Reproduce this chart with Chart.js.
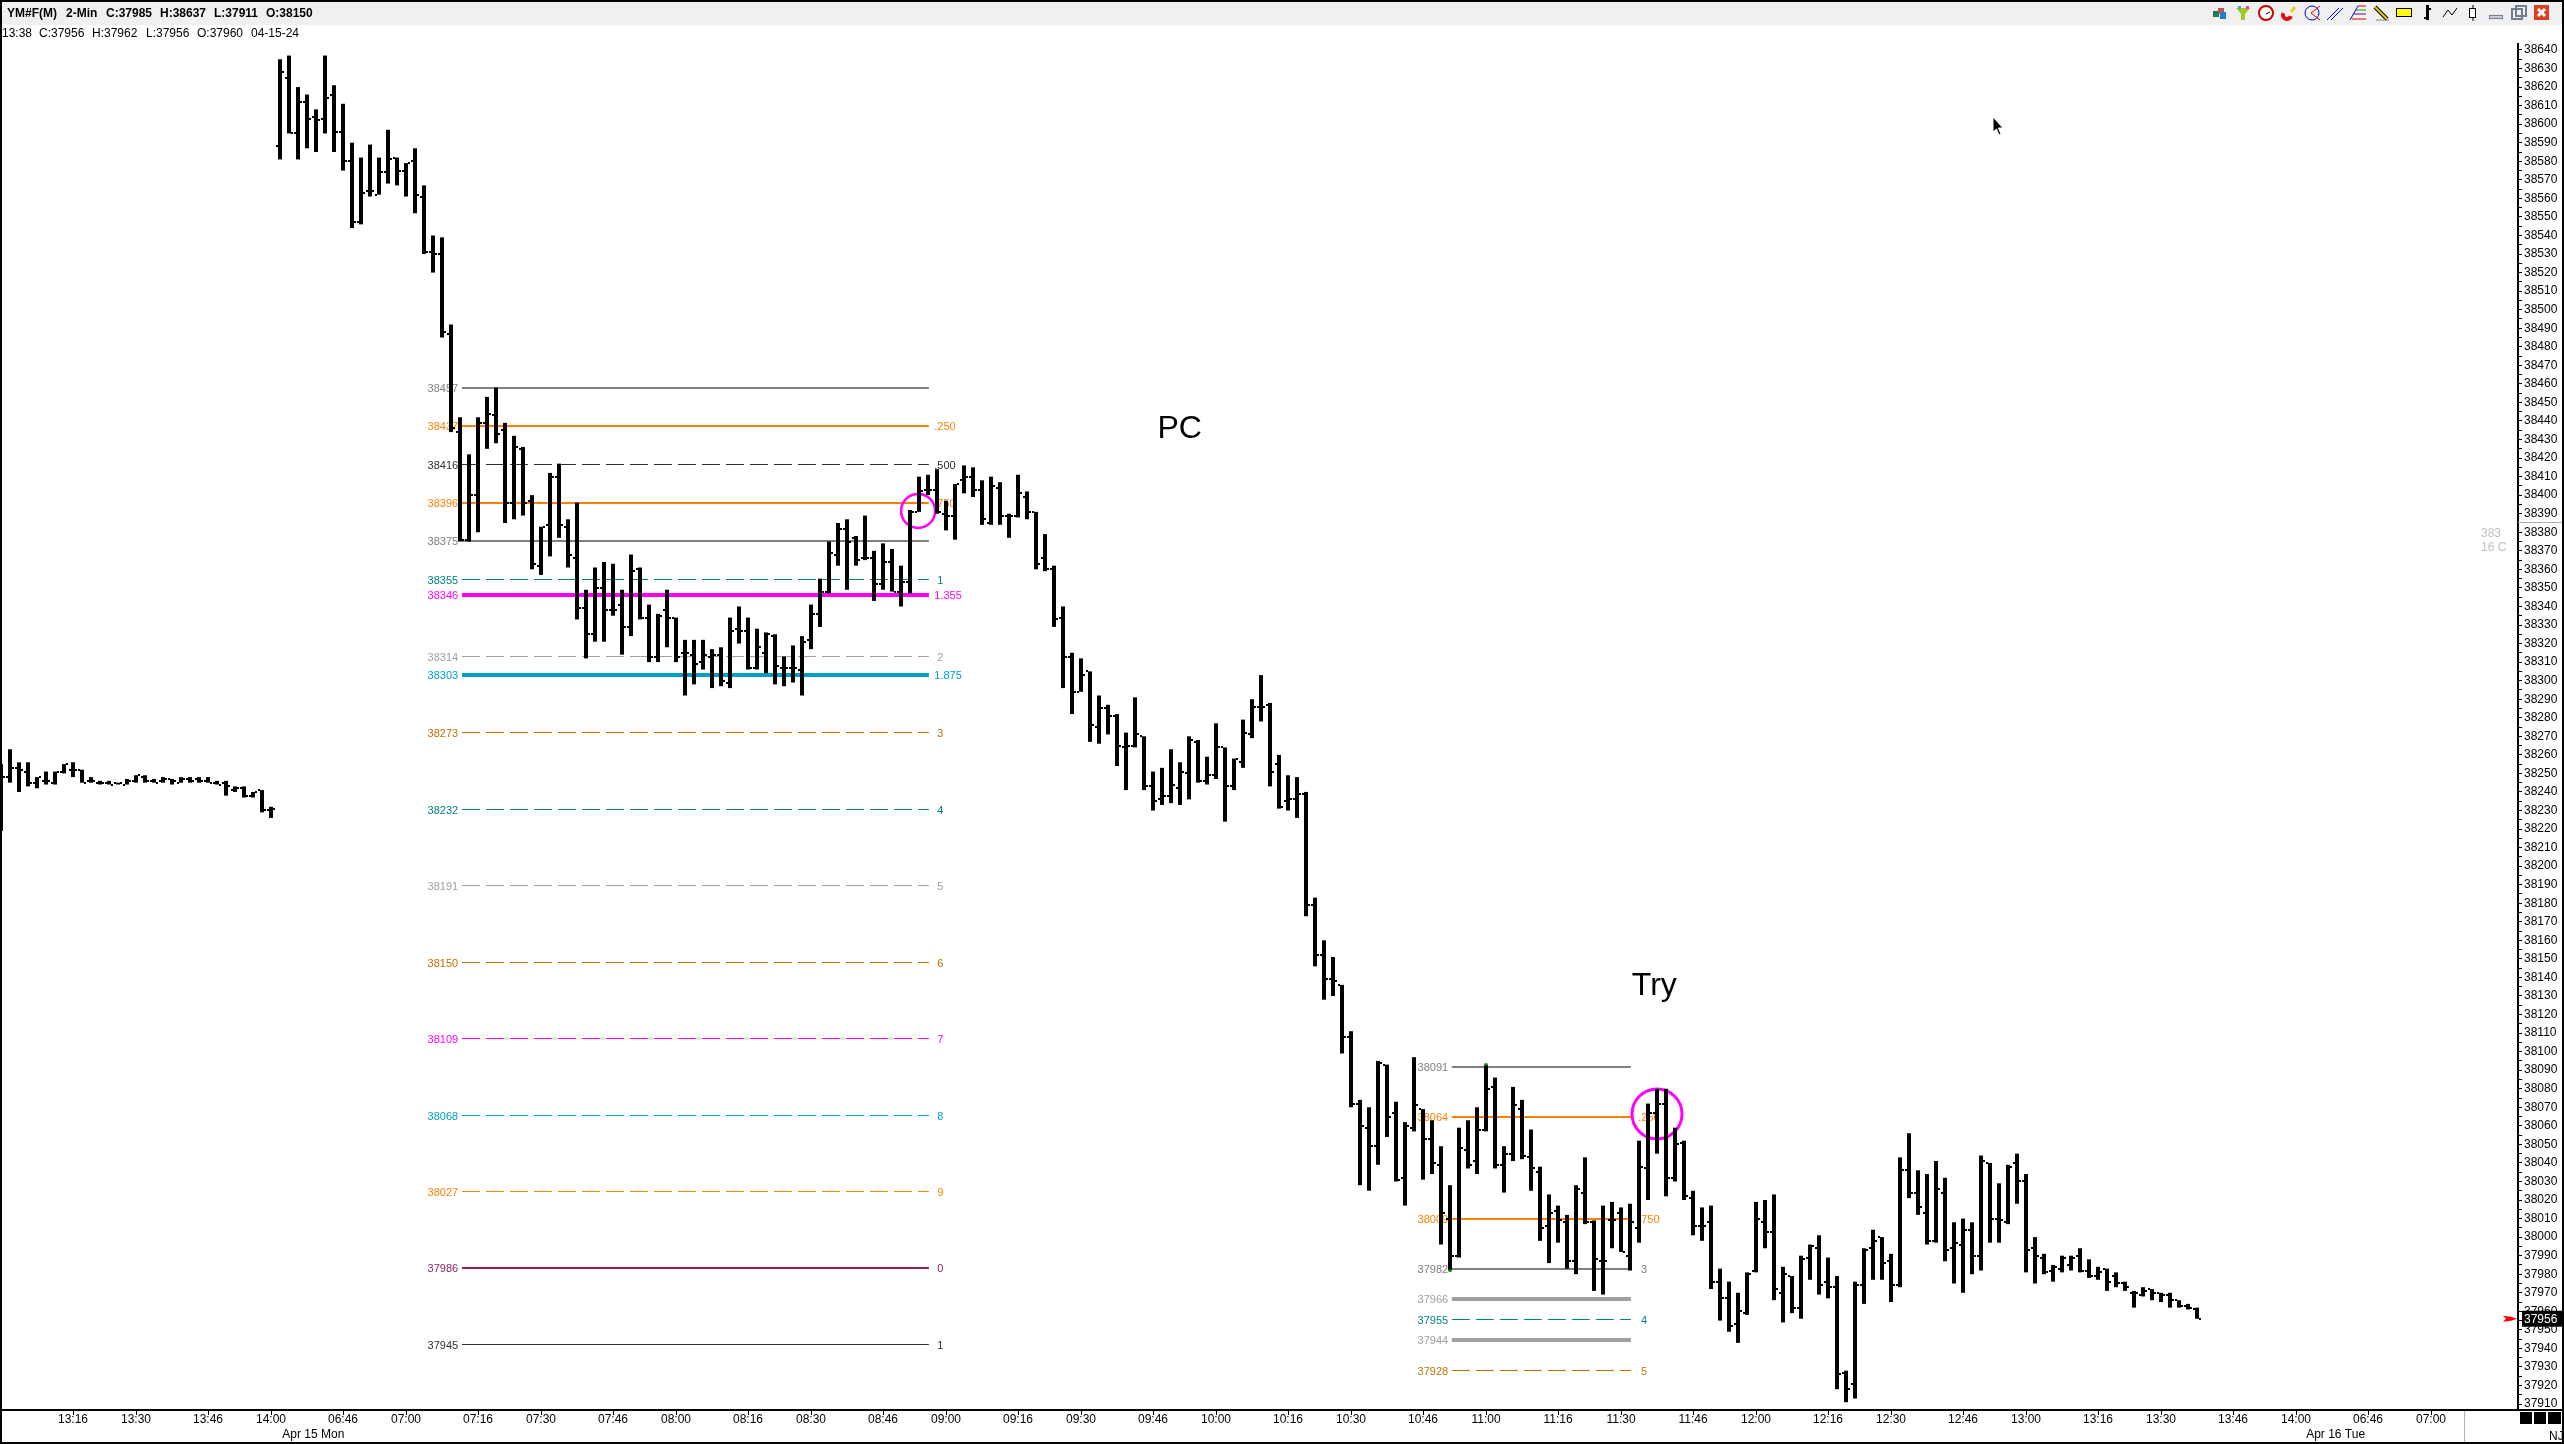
<!DOCTYPE html>
<html>
<head>
<meta charset="utf-8">
<style>
  html, body { margin: 0; padding: 0; background: #fff; }
  canvas { display: block; }
</style>
<script src="https://cdn.jsdelivr.net/npm/chart.js@4"></script>
</head>
<body>
<canvas id="myChart" width="2564" height="1444"></canvas>
<script>
'use strict';

// bar values, one entry per 2 minute bar
const opens = [
  38245,38248,38253,38251,38245,38246,38245,38251,38252,38252,
  38246,38245,38245,38245,38244,38246,38248,38246,38246,38247,
  38245,38247,38247,38246,38245,38245,38241,38242,38238,38241,
  38230,38588,38625,38595,38612,38604,38603,38616,38596,38580,
  38547,38564,38562,38574,38582,38575,38580,38561,38531,38530,
  38487,38434,38376,38400,38439,38443,38435,38396,38425,38397,
  38362,38384,38410,38383,38366,38339,38325,38350,38338,38341,
  38329,38360,38334,38313,38338,38334,38315,38314,38310,38313,
  38314,38299,38328,38327,38307,38315,38324,38307,38307,38306,
  38322,38336,38348,38368,38382,38377,38366,38366,38352,38364,
  38348,38353,38391,38403,38403,38390,38389,38408,38410,38403,
  38385,38404,38389,38389,38399,38391,38366,38360,38334,38313,
  38294,38305,38275,38285,38281,38264,38265,38270,38243,38236,
  38238,38242,38250,38267,38246,38249,38264,38243,38256,38271,
  38286,38287,38255,38235,38236,38239,38179,38152,38139,38136,
  38108,38072,38059,38049,38093,38067,38032,38059,38069,38053,
  38039,38010,37990,38047,38041,38058,38081,38039,38045,38069,
  38043,38035,38006,38014,38008,37987,38024,38008,37987,38009,
  38013,37990,38005,38037,38067,38072,38032,38051,38021,38006,
  38008,37976,37967,37953,37959,37982,38008,38003,37970,37979,
  37962,37989,37994,37976,37973,37927,37921,37974,37994,38000,
  37987,37974,38036,38024,38013,37998,38024,37994,37996,38004,
  37990,38040,38010,38008,38040,38030,37994,37989,37982,37983,
  37985,37990,37982,37979,37983,37979,37975,37970,37969,37972,
  37970,37969,37966,37963,37961
];
const highs = [
  38255,38263,38256,38256,38248,38251,38251,38255,38256,38252,
  38248,38246,38246,38245,38247,38249,38249,38247,38248,38247,
  38248,38248,38248,38248,38246,38246,38243,38243,38240,38241,
  38232,38635,38637,38620,38616,38608,38637,38621,38611,38590,
  38582,38589,38582,38597,38582,38579,38587,38567,38540,38539,
  38492,38442,38422,38442,38453,38458,38439,38432,38426,38400,
  38383,38412,38417,38387,38396,38349,38361,38364,38363,38349,
  38368,38361,38341,38336,38349,38334,38322,38322,38322,38317,
  38318,38334,38340,38334,38328,38326,38325,38313,38319,38324,
  38341,38355,38375,38385,38387,38378,38389,38370,38374,38371,
  38362,38392,38410,38411,38414,38397,38406,38416,38415,38408,
  38410,38407,38390,38411,38402,38391,38379,38362,38340,38315,
  38312,38305,38292,38287,38282,38272,38291,38270,38251,38253,
  38263,38256,38270,38268,38259,38277,38264,38258,38279,38290,
  38303,38288,38260,38249,38248,38240,38183,38160,38151,38136,
  38111,38074,38070,38095,38093,38073,38062,38097,38069,38063,
  38049,38028,38059,38063,38070,38093,38086,38049,38081,38074,
  38058,38038,38023,38017,38012,38028,38043,38009,38017,38019,
  38016,38018,38052,38072,38080,38080,38059,38052,38025,38016,
  38017,37983,37976,37970,37981,38019,38020,38023,37984,37979,
  37990,37996,38001,37989,37979,37928,37976,37994,38004,38000,
  37991,38043,38056,38036,38034,38041,38032,38008,38010,38008,
  38044,38040,38029,38039,38045,38034,38000,37991,37985,37990,
  37990,37994,37988,37984,37983,37981,37976,37971,37973,37972,
  37970,37970,37966,37964,37962
];
const lows = [
  38219,38245,38240,38243,38242,38244,38244,38250,38248,38245,
  38245,38244,38244,38244,38244,38245,38245,38245,38245,38244,
  38245,38245,38245,38245,38244,38238,38240,38237,38237,38229,
  38226,38581,38595,38581,38587,38585,38595,38585,38575,38544,
  38546,38561,38562,38568,38567,38561,38552,38530,38520,38485,
  38434,38375,38375,38380,38425,38428,38385,38387,38389,38360,
  38357,38367,38377,38361,38333,38312,38321,38321,38335,38314,
  38324,38333,38310,38310,38318,38310,38292,38298,38306,38296,
  38297,38296,38320,38306,38306,38304,38298,38297,38299,38292,
  38317,38329,38347,38362,38349,38362,38365,38343,38349,38348,
  38340,38347,38391,38400,38390,38381,38376,38401,38399,38384,
  38384,38384,38377,38388,38387,38360,38359,38329,38296,38282,
  38294,38267,38266,38271,38254,38241,38264,38241,38230,38233,
  38234,38233,38236,38245,38244,38247,38224,38241,38253,38269,
  38278,38243,38231,38230,38226,38173,38146,38128,38130,38099,
  38070,38028,38025,38039,38054,38030,38017,38057,38031,38034,
  37996,37982,37989,38037,38034,38057,38037,38024,38041,38042,
  38025,37998,37986,37997,37983,37980,38007,37971,37969,37994,
  37992,37982,37997,38020,38045,38022,38030,38020,38001,37998,
  37972,37955,37949,37943,37958,37981,37994,37966,37954,37959,
  37956,37977,37969,37967,37918,37911,37913,37964,37977,37977,
  37965,37973,38021,38012,37996,37997,37987,37975,37970,37980,
  37982,37997,37997,38007,38018,37981,37975,37980,37976,37981,
  37982,37981,37978,37977,37971,37973,37971,37962,37968,37966,
  37965,37962,37962,37961,37956
];
const closes = [
  38248,38253,38252,38245,38248,38246,38251,38255,38252,38245,
  38246,38245,38244,38245,38246,38249,38246,38245,38247,38246,
  38247,38246,38246,38245,38244,38243,38242,38238,38240,38230,
  38231,38628,38595,38612,38603,38602,38614,38596,38580,38547,
  38563,38564,38574,38581,38575,38579,38562,38531,38530,38488,
  38436,38376,38400,38439,38444,38433,38396,38426,38396,38363,
  38383,38410,38384,38368,38339,38325,38350,38338,38338,38329,
  38359,38334,38313,38335,38334,38313,38315,38309,38314,38314,
  38300,38327,38327,38307,38318,38325,38308,38307,38307,38321,
  38336,38348,38369,38382,38375,38365,38366,38352,38364,38348,
  38353,38391,38402,38403,38391,38389,38406,38410,38403,38387,
  38405,38389,38389,38401,38391,38363,38360,38333,38313,38294,
  38303,38276,38285,38281,38265,38265,38271,38243,38235,38238,
  38244,38251,38268,38246,38249,38264,38243,38258,38272,38286,
  38286,38251,38232,38236,38239,38179,38152,38139,38138,38108,
  38072,38060,38049,38094,38065,38031,38060,38071,38053,38040,
  38013,37990,38048,38039,38058,38080,38039,38045,38071,38044,
  38037,38005,38013,38009,37987,38026,38008,37988,37987,38009,
  37992,38008,38038,38067,38072,38032,38050,38022,38006,38006,
  37976,37967,37952,37960,37980,38010,38003,37972,37980,37962,
  37988,37995,37974,37973,37926,37918,37974,37993,37998,37986,
  37974,38036,38024,38016,37998,38026,37993,37997,38004,37990,
  38041,38010,38009,38038,38030,37993,37990,37981,37984,37989,
  37989,37982,37979,37981,37976,37975,37973,37970,37971,37970,
  37969,37966,37963,37962,37956
];

// time axis, bar number and its label
const timeTicks = [8,15,23,30,38,45,53,60,68,75,83,90,98,105,113,120,128,135,143,150,158,165,173,180,188,195,203,210,218,225,233,240,248,255,263,270];
const timeLabels = ['13:16','13:30','13:46','14:00','06:46','07:00','07:16','07:30','07:46','08:00','08:16','08:30','08:46','09:00','09:16','09:30','09:46','10:00','10:16','10:30','10:46','11:00','11:16','11:30','11:46','12:00','12:16','12:30','12:46','13:00','13:16','13:30','13:46','14:00','06:46','07:00'];
const dateLabels = ['Apr 15 Mon', 'Apr 16 Tue'];
const dateBars = [34.7, 259.4];

// fib levels of the first drawing (the line sits a little off its printed price)
const levelsA = [38457.78,38437.29,38416.53,38395.78,38375.29,38354.54,38346.18,38313.03,38303.05,38272.05,38230.54,38189.57,38148.06,38107.08,38065.57,38024.6,37983.36,37942.12];
const levelsATags = ['38457','38437','38416','38396','38375','38355','38346','38314','38303','38273','38232','38191','38150','38109','38068','38027','37986','37945'];
const levelsANames = ['','.250','.500','.750','','1','1.355','2','1.875','3','4','5','6','7','8','9','0','1'];
const levelsAColors = ['#808080','#ff8000','#303030','#ff8000','#808080','#008080','#ff00ff','#a0a0a0','#00a0c4','#c07000','#008080','#a0a0a0','#c07000','#ff00ff','#00a0c8','#ff8000','#902060','#303030'];
const levelsAWidths = [2,2,1,2,2,1,4,1,4,1,1,1,1,1,1,1,2,1];
const levelsADashed = [0,0,1,0,0,1,0,1,0,1,1,1,1,1,1,1,0,0];
const levelsASpan = [51.22, 103.1];

// second drawing
const levelsB = [38091.72,38064.76,38009.78,37982.82,37966.65,37955.6,37944.54,37928.1];
const levelsBTags = ['38091','38064','38009','37982','37966','37955','37944','37928'];
const levelsBNames = ['','.250','.750','3','','4','','5'];
const levelsBColors = ['#808080','#ff8000','#ff8000','#808080','#a0a0a0','#008080','#a0a0a0','#c07000'];
const levelsBWidths = [2,2,2,2,4,1,4,1];
const levelsBDashed = [0,0,0,0,0,1,0,1];
const levelsBSpan = [161.2, 181.1];

// circled tests and small green high/low marks
const circleBars = [101.9, 184];
const circlePrices = [38391.5, 38066.4];
const circleSizes = [17, 25];
const markBars = [165, 161];
const markPrices = [38093, 37982];

const notes = ['PC', 'Try'];
const noteBars = [128.5, 181.2];
const notePrices = [38431, 38130.5];

const lastPrice = 37956;

const priceTicks = [];
for (let p = 37910; p <= 38640; p += 5) priceTicks.push(p);

const barData = highs.map((h, i) => ({ x: i, y: [lows[i], h] }));

const levelDataset = (value, span, color, width, dashed) => ({
  type: 'line',
  data: [{ x: span[0], y: value }, { x: span[1], y: value }],
  borderColor: color,
  borderWidth: width,
  borderDash: dashed ? [18, 6] : [],
  pointRadius: 0,
  order: 3
});

const datasets = [
  {
    type: 'bar',
    data: barData,
    backgroundColor: '#000',
    barThickness: 4,
    inflateAmount: 0,
    order: 1
  },
  {
    type: 'scatter',
    data: circleBars.map((b, i) => ({ x: b, y: circlePrices[i] })),
    pointRadius: circleSizes,
    pointBackgroundColor: 'rgba(0,0,0,0)',
    pointBorderColor: '#ff00ff',
    pointBorderWidth: [2.5, 3],
    order: 2
  },
  {
    type: 'scatter',
    data: markBars.map((b, i) => ({ x: b, y: markPrices[i] })),
    pointStyle: 'rect',
    pointRadius: 2,
    pointBackgroundColor: '#008000',
    pointBorderWidth: 0,
    order: 0
  },
  ...levelsA.map((v, i) => levelDataset(v, levelsASpan, levelsAColors[i], levelsAWidths[i], levelsADashed[i])),
  ...levelsB.map((v, i) => levelDataset(v, levelsBSpan, levelsBColors[i], levelsBWidths[i], levelsBDashed[i]))
];

// level labels go under the bars
const levelLabels = {
  id: 'levelLabels',
  beforeDatasetsDraw(chart) {
    const { ctx, scales: { x, y } } = chart;
    ctx.save();
    ctx.font = '11px "Liberation Sans"';
    ctx.textBaseline = 'middle';
    const put = (values, tags, names, colors, tagBar, nameBar) => {
      values.forEach((v, i) => {
        const py = y.getPixelForValue(v) + 1;
        ctx.fillStyle = colors[i];
        ctx.fillText(tags[i], x.getPixelForValue(tagBar), py);
        const name = names[i];
        ctx.fillText(name, x.getPixelForValue(nameBar) + (name.length === 1 ? 3 : 0), py);
      });
    };
    put(levelsA, levelsATags, levelsANames, levelsAColors, 47.4, 103.7);
    put(levelsB, levelsBTags, levelsBNames, levelsBColors, 157.4, 181.9);
    ctx.restore();
  }
};

// open and close ticks of every bar
const barTicks = {
  id: 'barTicks',
  afterDatasetsDraw(chart) {
    const { ctx, scales: { x, y } } = chart;
    ctx.save();
    ctx.beginPath();
    ctx.rect(2, chart.chartArea.top, chart.chartArea.width, chart.chartArea.height);
    ctx.clip();
    ctx.fillStyle = '#000';
    highs.forEach((h, i) => {
      const px = Math.round(x.getPixelForValue(i));
      ctx.fillRect(px - 4, Math.round(y.getPixelForValue(opens[i])) - 1, 2, 2);
      ctx.fillRect(px + 2, Math.round(y.getPixelForValue(closes[i])) - 1, 2, 2);
    });
    ctx.fillStyle = '#000';
    ctx.font = '32px "Liberation Sans"';
    ctx.textBaseline = 'alphabetic';
    notes.forEach((n, i) => ctx.fillText(n, x.getPixelForValue(noteBars[i]), y.getPixelForValue(notePrices[i])));
    ctx.restore();
  }
};

const drawToolbar = (ctx) => {
  const line = (color, w, pts) => {
    ctx.strokeStyle = color;
    ctx.lineWidth = w;
    ctx.beginPath();
    pts.forEach((p, i) => (i ? ctx.lineTo(p[0], p[1]) : ctx.moveTo(p[0], p[1])));
    ctx.stroke();
  };
  const box = (color, a, b, c, d) => { ctx.fillStyle = color; ctx.fillRect(a, b, c, d); };
  // cubes
  box('#1a7a5a', 2213, 11, 6, 6); box('#c05050', 2218, 8, 6, 6); box('#2080d0', 2220, 12, 6, 7);
  // funnel
  ctx.fillStyle = '#a8c820';
  ctx.beginPath(); ctx.moveTo(2236, 8); ctx.lineTo(2250, 8); ctx.lineTo(2245, 14); ctx.lineTo(2245, 20); ctx.lineTo(2241, 20); ctx.lineTo(2241, 14); ctx.fill();
  box('#e040c0', 2246, 6, 3, 3); box('#40a0e0', 2238, 6, 3, 3);
  // clock
  ctx.strokeStyle = '#d00000'; ctx.lineWidth = 2; ctx.fillStyle = '#fff';
  ctx.beginPath(); ctx.arc(2266, 13, 7, 0, 7); ctx.fill(); ctx.stroke();
  line('#000', 1, [[2266, 14], [2270, 12]]);
  // magnet
  ctx.strokeStyle = '#e01010'; ctx.lineWidth = 4;
  ctx.beginPath(); ctx.arc(2287, 15, 4, 0.3, 3.6); ctx.stroke();
  line('#e8d020', 3, [[2291, 12], [2295, 7]]);
  // circle and fans
  ctx.strokeStyle = '#0000e0'; ctx.lineWidth = 1;
  ctx.beginPath(); ctx.arc(2312, 13, 7, 0, 7); ctx.stroke();
  line('#e00000', 1, [[2320, 6], [2311, 13], [2320, 20]]);
  line('#0000e0', 1, [[2327, 20], [2339, 8]]);
  line('#0000e0', 1, [[2331, 20], [2343, 8]]);
  line('#0000e0', 1, [[2350, 20], [2358, 6]]);
  line('#e00000', 1, [[2358, 6], [2366, 6]]);
  line('#00a000', 1, [[2356, 10], [2366, 10]]);
  line('#800080', 1, [[2354, 14], [2366, 14]]);
  line('#e00000', 1, [[2352, 19], [2366, 19]]);
  // pencil
  line('#000', 4, [[2375, 7], [2387, 19]]);
  line('#f0d000', 2, [[2375, 7], [2387, 19]]);
  line('#808080', 1, [[2376, 20], [2389, 20]]);
  // rectangle
  box('#ffff00', 2396, 8, 16, 8);
  ctx.strokeStyle = '#000'; ctx.lineWidth = 1; ctx.strokeRect(2396.5, 8.5, 15, 8);
  // bar, line, candle
  box('#000', 2426, 5, 3, 15); box('#000', 2424, 17, 2, 2); box('#000', 2429, 8, 2, 2);
  line('#000', 1, [[2443, 17], [2448, 10], [2452, 15], [2457, 8]]);
  line('#000', 1, [[2473, 5], [2473, 21]]);
  ctx.fillStyle = '#fff'; ctx.fillRect(2469, 8, 7, 10); ctx.strokeStyle = '#000'; ctx.strokeRect(2469.5, 8.5, 6, 9);
  // window buttons
  box('#c8ccd4', 2489, 15, 14, 4);
  ctx.strokeStyle = '#708090'; ctx.strokeRect(2489.5, 15.5, 13, 3);
  ctx.lineWidth = 2;
  ctx.strokeRect(2516, 6, 10, 10); ctx.strokeRect(2512, 9, 10, 10);
  box('#d84020', 2534, 5, 15, 15);
  line('#fff', 3, [[2538, 9], [2545, 16]]);
  line('#fff', 3, [[2545, 9], [2538, 16]]);
};

// window frame, header text, price marker, cursor
const frame = {
  id: 'frame',
  afterDraw(chart) {
    const { ctx, scales: { x, y } } = chart;
    ctx.save();
    ctx.fillStyle = '#f0f0f0';
    ctx.fillRect(0, 2, 2564, 23);
    drawToolbar(ctx);

    ctx.fillStyle = '#000';
    ctx.textBaseline = 'alphabetic';
    ctx.font = 'bold 12px "Liberation Sans"';
    [['YM#F(M)', 7], ['2-Min', 66], ['C:37985', 106], ['H:38637', 160], ['L:37911', 214], ['O:38150', 266]].forEach(t => ctx.fillText(t[0], t[1], 17));
    ctx.font = '12px "Liberation Sans"';
    [['13:38', 2], ['C:37956', 39], ['H:37962', 92], ['L:37956', 146], ['O:37960', 197], ['04-15-24', 251]].forEach(t => ctx.fillText(t[0], t[1], 37));

    // date row under the time labels
    ctx.textAlign = 'center';
    dateLabels.forEach((d, i) => ctx.fillText(d, x.getPixelForValue(dateBars[i]), 1438));
    ctx.textAlign = 'left';

    // borders
    ctx.fillRect(0, 0, 2564, 2);
    ctx.fillRect(0, 0, 2, 1444);
    ctx.fillRect(0, 1442, 2564, 2);
    ctx.fillRect(2562, 0, 2, 1444);
    ctx.fillRect(0, 1409, 2564, 2);
    ctx.fillStyle = '#b0b0b0';
    ctx.fillRect(2464, 1411, 1, 31);
    ctx.fillRect(2518, 522, 44, 1);

    // squares and NJ in the corner
    ctx.fillStyle = '#000';
    ctx.fillRect(2520, 1412, 12, 12);
    ctx.fillRect(2534, 1412, 12, 12);
    ctx.fillRect(2548, 1412, 13, 12);
    ctx.fillText('NJ', 2549, 1440);

    // faint readout beside the axis
    ctx.fillStyle = '#c0c0c0';
    ctx.fillText('383', 2481, 537);
    ctx.fillText('16 C', 2481, 551);

    // last price box and arrow
    const py = y.getPixelForValue(lastPrice);
    ctx.fillStyle = '#000';
    ctx.fillRect(2522, py - 8, 40, 16);
    ctx.fillStyle = '#fff';
    ctx.fillText(String(lastPrice), 2524, py + 4);
    ctx.fillStyle = '#ff0000';
    ctx.beginPath();
    ctx.moveTo(2503, py - 3);
    ctx.lineTo(2511, py - 2);
    ctx.lineTo(2517, py);
    ctx.lineTo(2511, py + 2);
    ctx.lineTo(2503, py + 3);
    ctx.lineTo(2506, py);
    ctx.fill();

    // mouse pointer
    ctx.fillStyle = '#000';
    ctx.strokeStyle = '#fff';
    ctx.lineWidth = 1;
    ctx.beginPath();
    ctx.moveTo(1993, 117);
    ctx.lineTo(1993, 132);
    ctx.lineTo(1996.5, 129);
    ctx.lineTo(1999, 135);
    ctx.lineTo(2001, 134);
    ctx.lineTo(1998.5, 128);
    ctx.lineTo(2003, 128);
    ctx.closePath();
    ctx.fill();
    ctx.stroke();
    ctx.restore();
  }
};

const config = {
  type: 'bar',
  data: { datasets },
  options: {
    responsive: false,
    animation: false,
    events: [],
    // the big circles must not push the plot away from the left edge
    layout: { autoPadding: false, padding: { top: 44, left: 0, right: 0, bottom: 0 } },
    plugins: {
      legend: { display: false },
      tooltip: { enabled: false }
    },
    scales: {
      x: {
        type: 'linear',
        bounds: 'data',
        offset: false,
        min: -1 / 9,
        max: 2517 / 9,
        afterFit(scale) {
          scale.height = 34;
          scale.paddingLeft = 0;
          scale.paddingRight = 0;
        },
        afterBuildTicks(scale) { scale.ticks = timeTicks.map(value => ({ value })); },
        border: { display: false },
        grid: { drawOnChartArea: false, drawTicks: true, tickLength: 5, tickColor: '#000', tickWidth: 1, offset: false },
        ticks: {
          autoSkip: false,
          maxRotation: 0,
          minRotation: 0,
          padding: -3,
          color: '#000',
          font: { family: '"Liberation Sans"', size: 12 },
          callback: value => timeLabels[timeTicks.indexOf(value)]
        }
      },
      y: {
        type: 'linear',
        position: 'right',
        bounds: 'data',
        min: 37906.8,
        max: 38643.23,
        afterFit(scale) {
          scale.width = 46;
          scale.paddingTop = 0;
          scale.paddingBottom = 0;
        },
        afterBuildTicks(scale) { scale.ticks = priceTicks.map(value => ({ value })); },
        border: { display: true, color: '#000', width: 2 },
        grid: { drawOnChartArea: false, drawTicks: true, tickLength: 4, tickColor: '#000', tickWidth: 1 },
        ticks: {
          autoSkip: false,
          padding: 2,
          color: '#000',
          crossAlign: 'near',
          font: { family: '"Liberation Sans"', size: 12 },
          callback: value => (value % 10 === 0 ? String(value) : '')
        }
      }
    }
  },
  plugins: [levelLabels, barTicks, frame]
};

const myChart = new Chart(document.getElementById('myChart'), config);
</script>
</body>
</html>
